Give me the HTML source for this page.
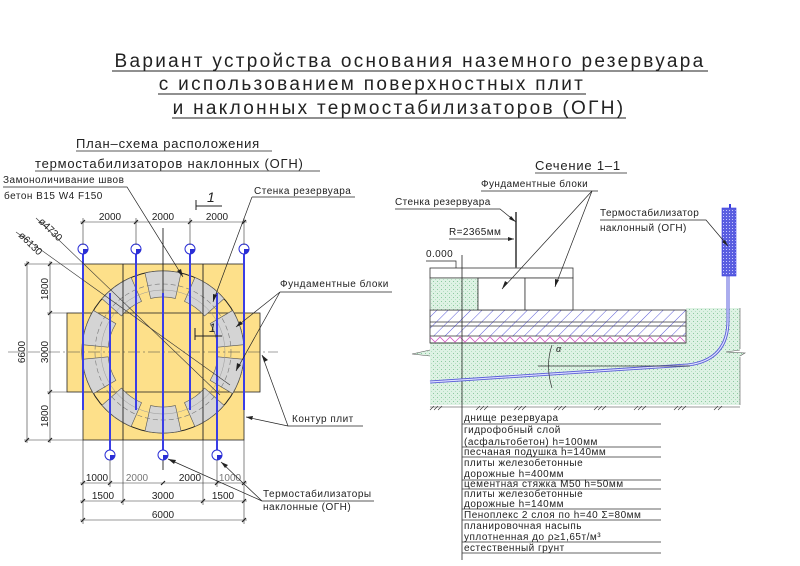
<!DOCTYPE html>
<html><head><meta charset="utf-8"><style>
html,body{margin:0;padding:0;background:#fff;}
svg{display:block;font-family:"Liberation Sans",sans-serif;}
.t{font-size:10px;fill:#222;}
</style></head><body>
<svg width="800" height="566" viewBox="0 0 800 566" xmlns="http://www.w3.org/2000/svg">
<defs>
<pattern id="hat" width="8" height="8" patternUnits="userSpaceOnUse" patternTransform="rotate(45)">
<rect width="8" height="8" fill="#fff"/><line x1="0" y1="0" x2="0" y2="8" stroke="#5b5bd6" stroke-width="1"/></pattern>
<pattern id="grn" width="4" height="4" patternUnits="userSpaceOnUse">
<rect width="4" height="4" fill="#def2e4"/><rect x="1" y="1" width="1" height="1" fill="#8ccaa0"/><rect x="3" y="3" width="1" height="1" fill="#b5dfc2"/></pattern>
<pattern id="fin" width="3" height="3" patternUnits="userSpaceOnUse">
<rect width="3" height="3" fill="#5a5ee0"/><rect width="1" height="1" fill="#c8c8ff"/></pattern>
</defs>

<!-- Title -->
<g font-size="19" fill="#222" text-anchor="middle" style="letter-spacing:2.3px">
<text x="410" y="67">Вариант устройства основания наземного резервуара</text>
<text x="372" y="90">с использованием поверхностных плит</text>
<text x="399" y="114">и наклонных термостабилизаторов (ОГН)</text>
</g>
<g stroke="#222" stroke-width="1">
<line x1="112" y1="71" x2="708" y2="71"/>
<line x1="158" y1="94" x2="586" y2="94"/>
<line x1="172" y1="118" x2="626" y2="118"/>
</g>
<g font-size="13" fill="#222" style="letter-spacing:0.8px">
<text x="76" y="148">План–схема расположения</text>
<text x="35" y="168">термостабилизаторов наклонных (ОГН)</text>
<text x="535" y="170">Сечение 1–1</text>
</g>
<g stroke="#222" stroke-width="0.8">
<line x1="76" y1="151" x2="272" y2="151"/>
<line x1="35" y1="171" x2="320" y2="171"/>
<line x1="535" y1="173" x2="627" y2="173"/>
</g>

<!-- PLAN -->
<rect x="83" y="264" width="161" height="176" fill="#fde08a" stroke="#222" stroke-width="0.8"/>
<rect x="67" y="313" width="193" height="79" fill="#fde08a" stroke="#222" stroke-width="0.8"/>
<rect x="83.5" y="313.5" width="160" height="78" fill="#fde08a"/>
<circle cx="163" cy="352" r="81" fill="none" stroke="#222" stroke-width="1"/>
<g fill="#d4d4d4" stroke="#555" stroke-width="0.6">
<path id="blk" d="M145,273 A81,81 0 0 1 181,273 L175.4,298.4 A55,55 0 0 0 150.6,298.4 Z"/>
<use href="#blk" transform="rotate(36 163 352)"/>
<use href="#blk" transform="rotate(72 163 352)"/>
<use href="#blk" transform="rotate(108 163 352)"/>
<use href="#blk" transform="rotate(144 163 352)"/>
<use href="#blk" transform="rotate(180 163 352)"/>
<use href="#blk" transform="rotate(216 163 352)"/>
<use href="#blk" transform="rotate(252 163 352)"/>
<use href="#blk" transform="rotate(288 163 352)"/>
<use href="#blk" transform="rotate(324 163 352)"/>
</g>
<circle cx="163" cy="352" r="68" fill="none" stroke="#777" stroke-width="0.6" stroke-dasharray="5 3"/>
<circle cx="163" cy="352" r="62" fill="none" stroke="#999" stroke-width="0.5"/>
<g stroke="#222" stroke-width="0.9">
<line x1="123" y1="264" x2="123" y2="440"/>
<line x1="203" y1="264" x2="203" y2="440"/>
<line x1="163" y1="228" x2="163" y2="470"/>
</g>
<line x1="8" y1="352" x2="278" y2="352" stroke="#444" stroke-width="0.6" stroke-dasharray="12 3 2 3"/>
<!-- blue stabilizers -->
<g stroke="#3a3ee6" stroke-width="2">
<line x1="83" y1="250" x2="83" y2="410"/>
<line x1="136" y1="250" x2="136" y2="410"/>
<line x1="190" y1="250" x2="190" y2="410"/>
<line x1="244" y1="250" x2="244" y2="410"/>
<line x1="110" y1="293" x2="110" y2="455"/>
<line x1="163" y1="293" x2="163" y2="455"/>
<line x1="217" y1="293" x2="217" y2="455"/>
</g>
<g fill="#fff" stroke="#2a2ed6" stroke-width="1">
<circle cx="83" cy="249" r="5"/><circle cx="136" cy="249" r="5"/><circle cx="190" cy="249" r="5"/><circle cx="244" cy="249" r="5"/>
<circle cx="110" cy="455" r="5"/><circle cx="163" cy="455" r="5"/><circle cx="217" cy="455" r="5"/>
</g>
<g fill="#2a2ed6">
<path d="M83,249 h5 a5,5 0 0 1 -5,5 z"/><path d="M136,249 h5 a5,5 0 0 1 -5,5 z"/><path d="M190,249 h5 a5,5 0 0 1 -5,5 z"/><path d="M244,249 h5 a5,5 0 0 1 -5,5 z"/>
<path d="M110,455 h5 a5,5 0 0 1 -5,5 z"/><path d="M163,455 h5 a5,5 0 0 1 -5,5 z"/><path d="M217,455 h5 a5,5 0 0 1 -5,5 z"/>
</g>
<!-- diameter leaders -->
<g stroke="#333" stroke-width="0.6" fill="none">
<line x1="36" y1="218" x2="220" y2="395"/>
<line x1="16" y1="232" x2="230" y2="385"/>
</g>
<text class="t" x="38" y="222" transform="rotate(44 38 222)" font-size="10">ø4730</text>
<text class="t" x="18" y="236" transform="rotate(44 18 236)" font-size="10">ø6130</text>

<!-- dimensions -->
<g stroke="#333" stroke-width="0.6">
<line x1="80" y1="222" x2="247" y2="222"/>
<line x1="83" y1="218" x2="83" y2="245"/><line x1="244" y1="218" x2="244" y2="245"/>
<line x1="136" y1="218" x2="136" y2="245"/><line x1="190" y1="218" x2="190" y2="245"/>
<line x1="80" y1="483" x2="247" y2="483"/>
<line x1="80" y1="501" x2="247" y2="501"/>
<line x1="80" y1="520" x2="247" y2="520"/>
<line x1="83" y1="440" x2="83" y2="524"/><line x1="244" y1="440" x2="244" y2="524"/>
<line x1="110" y1="460" x2="110" y2="487"/><line x1="217" y1="460" x2="217" y2="487"/>
<line x1="123" y1="440" x2="123" y2="505"/><line x1="203" y1="440" x2="203" y2="505"/>
<line x1="27" y1="261" x2="27" y2="443"/>
<line x1="50" y1="261" x2="50" y2="443"/>
<line x1="24" y1="264" x2="83" y2="264"/><line x1="24" y1="440" x2="83" y2="440"/>
<line x1="47" y1="313" x2="67" y2="313"/><line x1="47" y1="392" x2="67" y2="392"/>
</g>
<g stroke="#222" stroke-width="1.2">
<path d="M81,224 l4,-4 M134,224 l4,-4 M188,224 l4,-4 M242,224 l4,-4"/>
<path d="M81,485 l4,-4 M108,485 l4,-4 M161,485 l4,-4 M215,485 l4,-4 M242,485 l4,-4"/>
<path d="M81,503 l4,-4 M121,503 l4,-4 M201,503 l4,-4 M242,503 l4,-4"/>
<path d="M81,522 l4,-4 M242,522 l4,-4"/>
<path d="M25,266 l4,-4 M25,442 l4,-4 M48,266 l4,-4 M48,315 l4,-4 M48,394 l4,-4 M48,442 l4,-4"/>
</g>
<g class="t" font-size="11" text-anchor="middle">
<text x="110" y="220">2000</text><text x="163" y="220">2000</text><text x="217" y="220">2000</text>
<text x="97" y="481">1000</text><text x="137" y="481" fill="#777">2000</text><text x="190" y="481">2000</text><text x="230" y="481" fill="#777">1000</text>
<text x="103" y="499">1500</text><text x="163" y="499">3000</text><text x="223" y="499">1500</text>
<text x="163" y="518">6000</text>
<text transform="translate(25 352) rotate(-90)">6600</text>
<text transform="translate(48 289) rotate(-90)">1800</text>
<text transform="translate(48 352) rotate(-90)">3000</text>
<text transform="translate(48 416) rotate(-90)">1800</text>
</g>
<!-- section mark -->
<g stroke="#222" stroke-width="1">
<line x1="196" y1="200" x2="196" y2="210"/><line x1="196" y1="206" x2="222" y2="206"/>
<line x1="195" y1="328" x2="195" y2="340"/><line x1="195" y1="336" x2="222" y2="336"/>
</g>
<text x="207" y="202" font-size="14" font-style="italic" fill="#222">1</text>
<text x="209" y="332" font-size="12" font-style="italic" fill="#222">1</text>

<!-- plan labels -->
<g class="t" font-size="10.5" style="letter-spacing:0.5px">
<text x="3" y="183">Замоноличивание швов</text>
<text x="4" y="199">бетон В15 W4 F150</text>
<text x="254" y="194">Стенка резервуара</text>
<text x="280" y="287">Фундаментные блоки</text>
<text x="292" y="422">Контур плит</text>
<text x="263" y="497">Термостабилизаторы</text>
<text x="263" y="510">наклонные (ОГН)</text>
</g>
<g stroke="#222" stroke-width="0.7" fill="none">
<polyline points="3,187 127,187 183,277"/>
<polyline points="252,197 355,197"/><line x1="252" y1="197" x2="213" y2="302"/>
<polyline points="392,292 280,292"/><line x1="280" y1="292" x2="236" y2="327"/><line x1="280" y1="292" x2="236" y2="371"/>
<polyline points="363,426 288,426"/><line x1="288" y1="426" x2="246" y2="417"/><line x1="288" y1="426" x2="262" y2="355"/>
<polyline points="374,501 262,501"/><line x1="262" y1="501" x2="168" y2="459"/><line x1="262" y1="501" x2="221" y2="462"/>
</g>
<g fill="#222">
<path d="M183,277 l-6,-6 l4,-2 z"/><path d="M213,302 l0,-8 l4,1 z"/><path d="M236,327 l4,-6 l3,3 z"/>
<path d="M236,371 l1,-8 l4,2 z"/><path d="M246,417 l7,-1 l-1,4 z"/><path d="M262,355 l2,7 l4,-2 z"/>
<path d="M168,459 l8,1 l-2,4 z"/><path d="M221,462 l7,3 l-3,3 z"/>
</g>

<!-- SECTION -->
<path d="M430,343 L686,343 L686,308 L740,308 L740,350 L726,352 L745,353 L740,356 L740,405 L430,405 L430,356 L412,354 L430,350 Z" fill="url(#grn)"/>
<line x1="740" y1="308" x2="740" y2="349" stroke="#555" stroke-width="0.6"/>
<line x1="740" y1="357" x2="740" y2="405" stroke="#555" stroke-width="0.6"/>
<polyline points="430,350 412,354 430,356" fill="none" stroke="#555" stroke-width="0.6"/>
<polyline points="740,350 726,352 745,353 740,356" fill="none" stroke="#555" stroke-width="0.6"/>
<rect x="430" y="310" width="256" height="33" fill="url(#hat)" stroke="#333" stroke-width="0.8"/>
<g stroke="#333" stroke-width="0.7"><line x1="430" y1="322" x2="686" y2="322"/><line x1="430" y1="326" x2="686" y2="326"/><line x1="430" y1="336" x2="686" y2="336"/></g>
<rect x="430.5" y="336.5" width="255" height="6" fill="#fff"/>
<path d="M430,337 l5,5 l5,-5 l5,5 l5,-5 l5,5 l5,-5 l5,5 l5,-5 l5,5 l5,-5 l5,5 l5,-5 l5,5 l5,-5 l5,5 l5,-5 l5,5 l5,-5 l5,5 l5,-5 l5,5 l5,-5 l5,5 l5,-5 l5,5 l5,-5 l5,5 l5,-5 l5,5 l5,-5 l5,5 l5,-5 l5,5 l5,-5 l5,5 l5,-5 l5,5 l5,-5 l5,5 l5,-5 l5,5 l5,-5 l5,5 l5,-5 l5,5 l5,-5 l5,5 l5,-5 l5,5 l5,-5 l5,5" fill="none" stroke="#d040c0" stroke-width="0.7"/>
<line x1="430" y1="343" x2="686" y2="343" stroke="#333" stroke-width="0.8"/>
<!-- blocks -->
<rect x="430" y="268" width="143" height="10" fill="#fff" stroke="#333" stroke-width="0.8"/>
<rect x="430" y="278" width="48" height="32" fill="url(#grn)" stroke="#333" stroke-width="0.6"/>
<rect x="478" y="278" width="47" height="32" fill="#fff" stroke="#333" stroke-width="0.8"/>
<rect x="525" y="278" width="48" height="32" fill="#fff" stroke="#333" stroke-width="0.8"/>
<line x1="516" y1="212" x2="516" y2="268" stroke="#666" stroke-width="2"/>
<line x1="462" y1="255" x2="462" y2="560" stroke="#222" stroke-width="0.8"/>
<!-- pipe -->
<path d="M430,382 L688,365 Q728,360 728,320 L728,276" fill="none" stroke="#5a5ed8" stroke-width="3"/>
<path d="M430,382 L688,365 Q728,360 728,320 L728,276" fill="none" stroke="#dfe0ff" stroke-width="1.2"/>
<rect x="722" y="208" width="14" height="68" fill="url(#fin)" stroke="#3a3ee0" stroke-width="0.6"/>
<line x1="730" y1="204" x2="730" y2="208" stroke="#3a3ee0" stroke-width="2"/>
<!-- angle -->
<line x1="538" y1="366" x2="690" y2="366" stroke="#333" stroke-width="0.8"/>
<path d="M552,345 Q545,365 552,388" fill="none" stroke="#333" stroke-width="0.7"/>
<text x="556" y="352" font-size="9" font-style="italic" fill="#222">α</text>
<!-- ground ticks -->
<g stroke="#333" stroke-width="0.6">
<path d="M430,410 l4,-4 M434,410 l4,-4 M438,410 l4,-4 M476,410 l4,-4 M480,410 l4,-4 M484,410 l4,-4 M514,410 l4,-4 M518,410 l4,-4 M522,410 l4,-4 M554,410 l4,-4 M558,410 l4,-4 M562,410 l4,-4 M594,410 l4,-4 M598,410 l4,-4 M602,410 l4,-4 M634,410 l4,-4 M638,410 l4,-4 M642,410 l4,-4 M674,410 l4,-4 M678,410 l4,-4 M682,410 l4,-4 M714,410 l4,-4 M718,410 l4,-4"/>
<line x1="430" y1="407" x2="740" y2="407"/>
</g>
<!-- section labels -->
<g class="t" font-size="10" style="letter-spacing:0.4px">
<text x="481" y="187">Фундаментные блоки</text>
<text x="395" y="205">Стенка резервуара</text>
<text x="449" y="235">R=2365мм</text>
<text x="426" y="257">0.000</text>
<text x="600" y="216">Термостабилизатор</text>
<text x="600" y="231">наклонный (ОГН)</text>
</g>
<g stroke="#222" stroke-width="0.7" fill="none">
<polyline points="481,191 598,191"/><line x1="592" y1="191" x2="502" y2="289"/><line x1="592" y1="191" x2="555" y2="287"/>
<polyline points="395,209 500,209 516,222"/>
<line x1="449" y1="239" x2="514" y2="239"/>
<polyline points="426,261 456,261 456,268"/>
<polyline points="600,220 706,220 728,246"/>
</g>
<g fill="#222">
<path d="M502,289 l3,-8 l3,2 z"/><path d="M555,287 l0,-8 l4,1 z"/><path d="M516,222 l-7,-3 l2,-3 z"/>
<path d="M514,239 l-6,-2 v4 z"/><path d="M728,246 l-6,-4 l3,-2 z"/>
</g>
<!-- legend table -->
<g stroke="#333" stroke-width="0.8">
<line x1="462" y1="424" x2="661" y2="424"/>
<line x1="462" y1="447" x2="661" y2="447"/>
<line x1="462" y1="457" x2="661" y2="457"/>
<line x1="462" y1="480" x2="661" y2="480"/>
<line x1="462" y1="489" x2="661" y2="489"/>
<line x1="462" y1="509" x2="661" y2="509"/>
<line x1="462" y1="520" x2="661" y2="520"/>
<line x1="462" y1="542" x2="661" y2="542"/>
<line x1="462" y1="553" x2="661" y2="553"/>
</g>
<g class="t" font-size="9.5" style="letter-spacing:0.5px">
<text x="464" y="421">днище резервуара</text>
<text x="464" y="433">гидрофобный слой</text>
<text x="464" y="445">(асфальтобетон) h=100мм</text>
<text x="464" y="455">песчаная подушка h=140мм</text>
<text x="464" y="466">плиты железобетонные</text>
<text x="464" y="477">дорожные h=400мм</text>
<text x="464" y="487">цементная стяжка М50 h=50мм</text>
<text x="464" y="497">плиты железобетонные</text>
<text x="464" y="507">дорожные h=140мм</text>
<text x="464" y="518">Пеноплекс 2 слоя по h=40 Σ=80мм</text>
<text x="464" y="529">планировочная насыпь</text>
<text x="464" y="540">уплотненная до ρ≥1,65т/м³</text>
<text x="464" y="551">естественный грунт</text>
</g>
</svg>
</body></html>
